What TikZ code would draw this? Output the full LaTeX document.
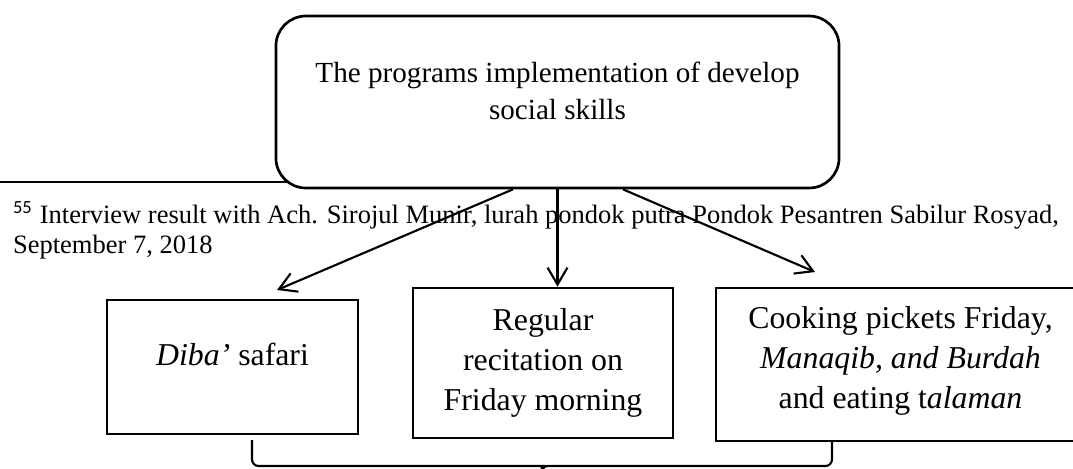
\documentclass[tikz,border=0pt]{standalone}
\usepackage{fontspec}
\setmainfont{Liberation Serif}
\newfontfamily\notefont{Carlito}
\usetikzlibrary{arrows.meta,positioning}

\begin{document}
\begin{tikzpicture}[x=0.37736pt,y=-0.37736pt,line width=0.8pt,
  prog/.style={draw,line width=1pt,rounded corners=11.3pt,fill=white,align=center,
    minimum width=212.5pt,minimum height=64.9pt,font=\fontsize{11}{14}\selectfont},
  act/.style={draw,line width=1pt,fill=white,align=center,font=\fontsize{12}{15.1}\selectfont},
  arr/.style={-{Straight Barb[length=6.4pt,width=7.5pt]}},
  fnote/.style={align=left,inner sep=0pt,font=\fontsize{10}{11.3}\selectfont}]

  \useasboundingbox (0,0) rectangle (1073,468);

  % footnote rule runs under the top box
  \draw (0,182) -- (300,182);

  \node[prog,text depth=8.6pt] (prog) at (557.5,102)
    {The programs implementation of develop\\social skills};

 \node[act,minimum width=94.7pt,minimum height=50.6pt,text depth=9.7pt] (diba) at (232.5,367)
    {\textit{Diba'} safari};
 \node[act,minimum width=98.1pt,minimum height=56.6pt] (recit) at (543,363)
    {Regular\\recitation on\\Friday morning};
 \node[act,minimum width=139.2pt,minimum height=57.7pt,text depth=5.5pt] (cook) at (900.5,364.5)
    {Cooking pickets Friday,\\\textit{Manaqib, and Burdah}\\and eating t\textit{alaman}};

  \node[fnote,anchor=base west] (fn) at (12,253)
    {\textsuperscript{\notefont 55} Interview result with Ach. Sirojul Munir, lurah pondok putra Pondok Pesantren Sabilur Rosyad,\\September 7, 2018};

  % arrows down to the three programs
  \coordinate (dibatip) at (277,290);
  \coordinate (cooktip) at (815,272);
  \draw[arr] ([xshift=-16.8pt]prog.south) -- (dibatip);
  \draw[arr] (prog.south) -- (prog.south |- recit.north);
  \draw[arr] ([xshift=24.7pt]prog.south) -- (cooktip);

  % brace under the boxes
  \draw[rounded corners=2.5pt] (252,440) -- (252,466) -- (536,466) [sharp corners]
    .. controls (541,466) and (542,469) .. (542,478)
    .. controls (542,469) and (543,466) .. (548,466) [rounded corners=2.5pt]
    -- (832,466) -- (832,440);

\end{tikzpicture}
\end{document}
